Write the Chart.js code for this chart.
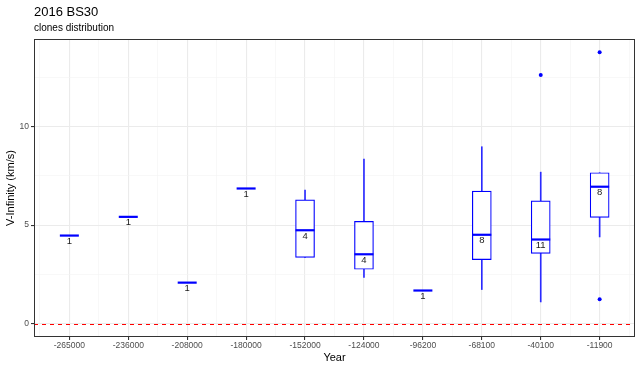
<!DOCTYPE html>
<html>
<head>
<meta charset="utf-8">
<script src="https://cdn.jsdelivr.net/npm/chart.js@4"></script>
<style>
  html, body { margin: 0; padding: 0; background: #ffffff; }
  #wrap { width: 640px; height: 370px; position: relative; }
</style>
</head>
<body>
<div id="wrap"><canvas id="grafico"></canvas></div>
<script>
// ===== datos =====
const categorias = ['-265000', '-236000', '-208000', '-180000', '-152000', '-124000', '-96200', '-68100', '-40100', '-11900'];
const bigoteInf = [4.47, 5.42, 2.08, 6.86, 3.36, 2.34, 1.68, 1.73, 1.10, 4.40];
const cuartil1  = [4.47, 5.42, 2.08, 6.86, 3.36, 2.76, 1.68, 3.25, 3.56, 5.39];
const mediana   = [4.47, 5.42, 2.08, 6.86, 4.74, 3.52, 1.68, 4.51, 4.27, 6.95];
const cuartil3  = [4.47, 5.42, 2.08, 6.86, 6.28, 5.19, 1.68, 6.73, 6.23, 7.66];
const bigoteSup = [4.47, 5.42, 2.08, 6.86, 6.78, 8.35, 1.68, 8.98, 7.69, 7.66];
const conteos   = [1, 1, 1, 1, 4, 4, 1, 8, 11, 8];
const atipicosCat = [8, 9, 9];
const atipicosVal = [12.62, 13.78, 1.24];
const ticksY = [0, 5, 10];
const lineaRef = 0;

const AZUL = '#0000ff';
const FUENTE = '"Liberation Sans", Arial, sans-serif';
const idx = categorias.map((_, i) => i);

// ¿el tick es mayor? (protegido por si el contexto no trae tick)
const esMayorX = (c) => !!(c && c.tick && Number.isInteger(c.tick.value));
const esMayorY = (c) => !!(c && c.tick && ticksY.includes(c.tick.value));

// ===== plugins =====
const marcoYTextos = {
  id: 'marcoYTextos',
  beforeDatasetsDraw(chart) {
    // línea roja discontinua de referencia
    const { ctx, chartArea: a, scales } = chart;
    const y = Math.round(scales.y.getPixelForValue(lineaRef)) + 0.5;
    ctx.save();
    ctx.strokeStyle = '#ff0000';
    ctx.lineWidth = 1;
    ctx.setLineDash([4, 4]);
    ctx.beginPath();
    ctx.moveTo(a.left, y);
    ctx.lineTo(a.right, y);
    ctx.stroke();
    ctx.restore();
  },
  afterDraw(chart) {
    const { ctx, chartArea: a, scales } = chart;
    ctx.save();
    // conteos bajo la mediana
    ctx.fillStyle = '#1a1a1a';
    ctx.font = '9.5px ' + FUENTE;
    ctx.textAlign = 'center';
    ctx.textBaseline = 'top';
    conteos.forEach((n, i) => {
      ctx.fillText(String(n), scales.x.getPixelForValue(i), scales.y.getPixelForValue(mediana[i]) + 1);
    });
    // borde del panel
    ctx.strokeStyle = '#333333';
    ctx.lineWidth = 1;
    ctx.strokeRect(a.left + 0.5, a.top + 0.5, a.right - a.left - 1, a.bottom - a.top - 1);
    // título y subtítulo
    ctx.textAlign = 'left';
    ctx.textBaseline = 'alphabetic';
    ctx.fillStyle = '#000000';
    ctx.font = '13px ' + FUENTE;
    ctx.fillText('2016 BS30', a.left, 16);
    ctx.font = '10px ' + FUENTE;
    ctx.fillText('clones distribution', a.left, 31);
    ctx.restore();
  }
};

// ===== gráfico =====
new Chart(document.getElementById('grafico'), {
  data: {
    datasets: [
      {
        type: 'bar',
        label: 'bigotes',
        data: idx.map(i => ({ x: i, y: [bigoteInf[i], bigoteSup[i]] })),
        backgroundColor: '#2a2aff',
        borderWidth: 0,
        barThickness: 1,
        grouped: false,
        order: 3
      },
      {
        type: 'bar',
        label: 'cajas',
        data: idx.map(i => ({ x: i, y: [cuartil1[i], cuartil3[i]] })),
        backgroundColor: '#ffffff',
        borderColor: AZUL,
        borderWidth: 1.2,
        borderSkipped: false,
        barThickness: 19,
        grouped: false,
        order: 2
      },
      {
        type: 'scatter',
        label: 'medianas',
        data: idx.map(i => ({ x: i, y: mediana[i] })),
        pointStyle: 'line',
        radius: 9.5,
        borderColor: AZUL,
        borderWidth: 2.2,
        order: 1
      },
      {
        type: 'scatter',
        label: 'atipicos',
        data: atipicosCat.map((c, i) => ({ x: c, y: atipicosVal[i] })),
        pointStyle: 'circle',
        radius: 2,
        backgroundColor: AZUL,
        borderWidth: 0,
        order: 0
      }
    ]
  },
  options: {
    responsive: true,
    maintainAspectRatio: false,
    animation: false,
    layout: { autoPadding: false, padding: { top: 39, right: 5, left: 0, bottom: 0 } },
    plugins: {
      legend: { display: false },
      tooltip: { enabled: false }
    },
    scales: {
      x: {
        type: 'linear',
        offset: false,
        min: -0.6,
        max: categorias.length - 0.4,
        afterBuildTicks(scale) {
          const t = [];
          for (let v = -0.5; v <= categorias.length - 0.5; v += 0.5) t.push({ value: v });
          scale.ticks = t;
        },
        afterFit(scale) {
          scale.height = 33;
          scale.paddingLeft = 0;
          scale.paddingRight = 0;
        },
        ticks: {
          autoSkip: false,
          maxRotation: 0,
          padding: 1,
          color: '#4d4d4d',
          font: { family: FUENTE, size: 8.5 },
          callback: (v) => Number.isInteger(v) ? categorias[v] : ''
        },
        grid: {
          offset: false,
          color: (c) => esMayorX(c) ? '#ebebeb' : '#f3f3f3',
          lineWidth: (c) => esMayorX(c) ? 1.1 : 0.6,
          tickColor: (c) => esMayorX(c) ? '#333333' : 'rgba(0,0,0,0)',
          tickLength: 3
        },
        border: { display: false },
        title: {
          display: true,
          text: 'Year',
          color: '#000000',
          font: { family: FUENTE, size: 11 },
          padding: { top: 0, bottom: 5 }
        }
      },
      y: {
        type: 'linear',
        min: -0.68,
        max: 14.45,
        afterBuildTicks(scale) {
          const t = [];
          for (let v = 0; v <= 12.5; v += 2.5) t.push({ value: v });
          scale.ticks = t;
        },
        afterFit(scale) {
          scale.width = 34;
          scale.paddingTop = 0;
          scale.paddingBottom = 0;
        },
        ticks: {
          padding: 2,
          color: '#4d4d4d',
          font: { family: FUENTE, size: 8.5 },
          callback: (v) => ticksY.includes(v) ? String(v) : ''
        },
        grid: {
          color: (c) => esMayorY(c) ? '#ebebeb' : '#f3f3f3',
          lineWidth: (c) => esMayorY(c) ? 1.1 : 0.6,
          tickColor: (c) => esMayorY(c) ? '#333333' : 'rgba(0,0,0,0)',
          tickLength: 3
        },
        border: { display: false },
        title: {
          display: true,
          text: 'V-Infinity (km/s)',
          color: '#000000',
          font: { family: FUENTE, size: 11 },
          padding: { top: 4, bottom: 0 }
        }
      }
    }
  },
  plugins: [marcoYTextos]
});
</script>
</body>
</html>
